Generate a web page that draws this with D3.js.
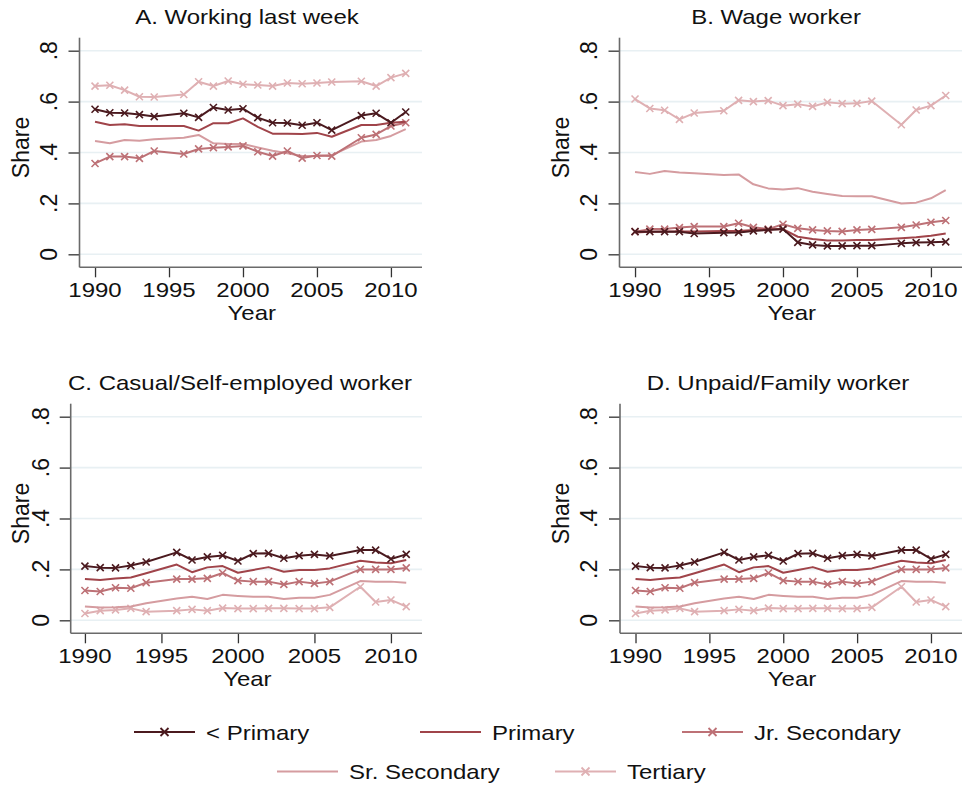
<!DOCTYPE html>
<html>
<head>
<meta charset="utf-8">
<script src="https://cdn.jsdelivr.net/npm/d3@7"></script>
<style>
  body { margin: 0; background: #fff; }
  svg { display: block; font-family: "Liberation Sans", Arial, sans-serif; }
</style>
</head>
<body>
<svg id="chart" width="963" height="787"></svg>
<script>
// years in the survey (1995 and 2007 are missing)
var years = [1990, 1991, 1992, 1993, 1994, 1996, 1997, 1998, 1999, 2000,
             2001, 2002, 2003, 2004, 2005, 2006, 2008, 2009, 2010, 2011];

var seriesNames = ['< Primary', 'Primary', 'Jr. Secondary', 'Sr. Secondary', 'Tertiary'];
var yTicks = [0, 0.2, 0.4, 0.6, 0.8];
var yTickLabels = ['0', '.2', '.4', '.6', '.8'];
var xTicks = [1990, 1995, 2000, 2005, 2010];

// A. Working last week (one row per education group, same order as seriesNames)
var workingLastWeek = [
    [0.570, 0.556, 0.555, 0.549, 0.541, 0.554, 0.538, 0.577, 0.567, 0.572, 0.537, 0.517, 0.516, 0.507, 0.517, 0.488, 0.545, 0.554, 0.517, 0.559],
    [0.521, 0.508, 0.511, 0.504, 0.504, 0.504, 0.486, 0.515, 0.515, 0.534, 0.501, 0.474, 0.474, 0.473, 0.477, 0.462, 0.508, 0.508, 0.517, 0.521],
    [0.357, 0.384, 0.384, 0.377, 0.406, 0.394, 0.414, 0.419, 0.422, 0.426, 0.403, 0.386, 0.406, 0.378, 0.388, 0.386, 0.458, 0.471, 0.504, 0.517],
    [0.445, 0.436, 0.449, 0.446, 0.452, 0.458, 0.469, 0.436, 0.433, 0.433, 0.420, 0.407, 0.397, 0.386, 0.386, 0.390, 0.443, 0.449, 0.465, 0.492],
    [0.661, 0.664, 0.645, 0.619, 0.618, 0.628, 0.678, 0.661, 0.681, 0.668, 0.665, 0.661, 0.673, 0.670, 0.673, 0.677, 0.680, 0.661, 0.694, 0.711]
];

// B. Wage worker
var wageWorker = [
    [0.089, 0.089, 0.089, 0.089, 0.082, 0.085, 0.086, 0.092, 0.096, 0.099, 0.047, 0.037, 0.033, 0.033, 0.034, 0.034, 0.043, 0.046, 0.047, 0.049],
    [0.086, 0.089, 0.090, 0.090, 0.090, 0.092, 0.092, 0.096, 0.098, 0.099, 0.069, 0.060, 0.054, 0.054, 0.056, 0.056, 0.063, 0.067, 0.073, 0.082],
    [0.089, 0.099, 0.099, 0.105, 0.109, 0.109, 0.122, 0.106, 0.099, 0.118, 0.102, 0.096, 0.092, 0.090, 0.096, 0.098, 0.106, 0.115, 0.126, 0.133],
    [0.323, 0.316, 0.327, 0.321, 0.318, 0.312, 0.314, 0.275, 0.259, 0.255, 0.260, 0.246, 0.237, 0.229, 0.228, 0.228, 0.200, 0.203, 0.220, 0.252],
    [0.610, 0.573, 0.566, 0.530, 0.555, 0.564, 0.605, 0.600, 0.604, 0.584, 0.590, 0.581, 0.597, 0.592, 0.593, 0.602, 0.509, 0.567, 0.584, 0.624]
];

// C. Casual/Self-employed worker
var casualWorker = [
    [0.213, 0.207, 0.206, 0.215, 0.229, 0.267, 0.237, 0.249, 0.255, 0.233, 0.262, 0.263, 0.244, 0.254, 0.259, 0.253, 0.276, 0.276, 0.241, 0.259],
    [0.162, 0.158, 0.164, 0.168, 0.185, 0.219, 0.189, 0.208, 0.213, 0.187, 0.198, 0.209, 0.191, 0.198, 0.198, 0.204, 0.234, 0.227, 0.224, 0.237],
    [0.117, 0.113, 0.128, 0.126, 0.148, 0.162, 0.162, 0.165, 0.186, 0.156, 0.152, 0.152, 0.141, 0.152, 0.145, 0.152, 0.200, 0.200, 0.200, 0.206],
    [0.054, 0.050, 0.051, 0.054, 0.067, 0.086, 0.093, 0.084, 0.100, 0.096, 0.093, 0.093, 0.084, 0.089, 0.089, 0.100, 0.154, 0.152, 0.152, 0.148],
    [0.027, 0.038, 0.041, 0.047, 0.034, 0.038, 0.043, 0.038, 0.048, 0.046, 0.046, 0.047, 0.047, 0.046, 0.046, 0.051, 0.132, 0.072, 0.080, 0.054]
];

// D. Unpaid/Family worker (drawn identical to C in the source figure)
var unpaidWorker = [
    [0.213, 0.207, 0.206, 0.215, 0.229, 0.267, 0.237, 0.249, 0.255, 0.233, 0.262, 0.263, 0.244, 0.254, 0.259, 0.253, 0.276, 0.276, 0.241, 0.259],
    [0.162, 0.158, 0.164, 0.168, 0.185, 0.219, 0.189, 0.208, 0.213, 0.187, 0.198, 0.209, 0.191, 0.198, 0.198, 0.204, 0.234, 0.227, 0.224, 0.237],
    [0.117, 0.113, 0.128, 0.126, 0.148, 0.162, 0.162, 0.165, 0.186, 0.156, 0.152, 0.152, 0.141, 0.152, 0.145, 0.152, 0.200, 0.200, 0.200, 0.206],
    [0.054, 0.050, 0.051, 0.054, 0.067, 0.086, 0.093, 0.084, 0.100, 0.096, 0.093, 0.093, 0.084, 0.089, 0.089, 0.100, 0.154, 0.152, 0.152, 0.148],
    [0.027, 0.038, 0.041, 0.047, 0.034, 0.038, 0.043, 0.038, 0.048, 0.046, 0.046, 0.047, 0.047, 0.046, 0.046, 0.051, 0.132, 0.072, 0.080, 0.054]
];

var colors = ['#4b1a1f', '#a0444a', '#bd7176', '#d59ca0', '#dfb0b3'];
var hasMarker = [true, false, true, false, true];

var TEXT_SIZE = 20;
var TEXT_STRETCH = 1.2; // the source renders text wide

var panels = [
    { title: 'A. Working last week', data: workingLastWeek, left: 79.5, right: 422, top: 37.7, bottom: 267.3,
      domain: [1988.95, 2012.1], titleX: 247, tickLabelX: 57, shareX: 29 },
    { title: 'B. Wage worker', data: wageWorker, left: 619.5, right: 962, top: 37.7, bottom: 267.3,
      domain: [1988.95, 2012.1], titleX: 776, tickLabelX: 597, shareX: 569 },
    { title: 'C. Casual/Self-employed worker', data: casualWorker, left: 70.7, right: 422, top: 403.7, bottom: 633.3,
      domain: [1989.07, 2012.03], titleX: 240, tickLabelX: 49, shareX: 29 },
    { title: 'D. Unpaid/Family worker', data: unpaidWorker, left: 620, right: 962, top: 403.7, bottom: 633.3,
      domain: [1988.95, 2012.1], titleX: 778, tickLabelX: 597, shareX: 569 }
];

var svg = d3.select('#chart');

function wideText(g, x, y, str, anchor) {
    return g.append('text')
        .attr('transform', 'translate(' + x + ',' + y + ') scale(' + TEXT_STRETCH + ',1)')
        .attr('text-anchor', anchor || 'middle')
        .attr('font-size', TEXT_SIZE)
        .attr('fill', '#111')
        .text(str);
}

function crossPath(r) {
    return 'M' + (-r) + ',' + (-r) + 'L' + r + ',' + r + 'M' + (-r) + ',' + r + 'L' + r + ',' + (-r);
}

function drawPanel(p) {
    var g = svg.append('g');
    var x = d3.scaleLinear().domain(p.domain).range([p.left, p.right]);
    var y = d3.scaleLinear().domain([-0.051, 0.851]).range([p.bottom, p.top]);

    // grid
    g.selectAll('.grid').data(yTicks).enter().append('line')
        .attr('x1', p.left).attr('x2', p.right)
        .attr('y1', function(d) { return y(d); }).attr('y2', function(d) { return y(d); })
        .attr('stroke', '#e8f0f3').attr('stroke-width', 1.6);

    // y axis
    var yAxis = d3.axisLeft(y).tickValues(yTicks).tickSize(11).tickFormat('');
    var ya = g.append('g').attr('transform', 'translate(' + p.left + ',0)').call(yAxis);
    ya.select('.domain').remove();
    ya.selectAll('.tick line').attr('stroke', '#333').attr('stroke-width', 1.3);
    g.append('line')
        .attr('x1', p.left).attr('x2', p.left).attr('y1', p.top).attr('y2', p.bottom)
        .attr('stroke', '#6a6a6a').attr('stroke-width', 1.6);

    yTicks.forEach(function(t, i) {
        g.append('text')
            .attr('transform', 'translate(' + p.tickLabelX + ',' + y(t) + ') rotate(-90)')
            .attr('text-anchor', 'middle')
            .attr('font-size', 23)
            .attr('fill', '#111')
            .text(yTickLabels[i]);
    });
    g.append('text')
        .attr('transform', 'translate(' + p.shareX + ',' + ((p.top + p.bottom) / 2 - 5) + ') rotate(-90)')
        .attr('text-anchor', 'middle')
        .attr('font-size', 23)
        .attr('fill', '#111')
        .text('Share');

    // x axis
    var xAxis = d3.axisBottom(x).tickValues(xTicks).tickSize(10).tickFormat('');
    var xa = g.append('g').attr('transform', 'translate(0,' + p.bottom + ')').call(xAxis);
    xa.select('.domain').remove();
    xa.selectAll('.tick line').attr('stroke', '#333').attr('stroke-width', 1.3);
    g.append('line')
        .attr('x1', p.left).attr('x2', p.right).attr('y1', p.bottom).attr('y2', p.bottom)
        .attr('stroke', '#6a6a6a').attr('stroke-width', 1.6);
    xTicks.forEach(function(t) {
        wideText(g, x(t), p.bottom + 29.5, String(t));
    });
    wideText(g, (p.left + p.right) / 2 + 1, p.bottom + 53, 'Year');

    // title
    wideText(g, p.titleX, p.top - 13.5, p.title);

    // series, lightest first so the dark ones sit on top
    var line = d3.line()
        .x(function(d, i) { return x(years[i]); })
        .y(function(d) { return y(d); });
    for (var s = p.data.length - 1; s >= 0; s--) {
        g.append('path')
            .attr('d', line(p.data[s]))
            .attr('fill', 'none')
            .attr('stroke', colors[s])
            .attr('stroke-width', 2)
            .attr('stroke-linejoin', 'round');
        if (hasMarker[s]) {
            g.selectAll('.m' + s).data(p.data[s]).enter().append('path')
                .attr('transform', function(d, i) { return 'translate(' + x(years[i]) + ',' + y(d) + ')'; })
                .attr('d', crossPath(3.5))
                .attr('stroke', colors[s])
                .attr('stroke-width', 1.6)
                .attr('fill', 'none');
        }
    }
}

panels.forEach(drawPanel);

// legend
var legendPos = [
    { x: 134, y: 732 }, { x: 420, y: 732 }, { x: 682, y: 732 },
    { x: 277, y: 771.5 }, { x: 555, y: 771.5 }
];
var legend = svg.append('g');
seriesNames.forEach(function(name, i) {
    var pos = legendPos[i];
    legend.append('line')
        .attr('x1', pos.x).attr('x2', pos.x + 61)
        .attr('y1', pos.y).attr('y2', pos.y)
        .attr('stroke', colors[i]).attr('stroke-width', 2.2);
    if (hasMarker[i]) {
        legend.append('path')
            .attr('transform', 'translate(' + (pos.x + 30.5) + ',' + pos.y + ')')
            .attr('d', crossPath(4))
            .attr('stroke', colors[i]).attr('stroke-width', 1.8).attr('fill', 'none');
    }
    wideText(legend, pos.x + 72, pos.y + 7.5, name, 'start');
});
</script>
</body>
</html>
